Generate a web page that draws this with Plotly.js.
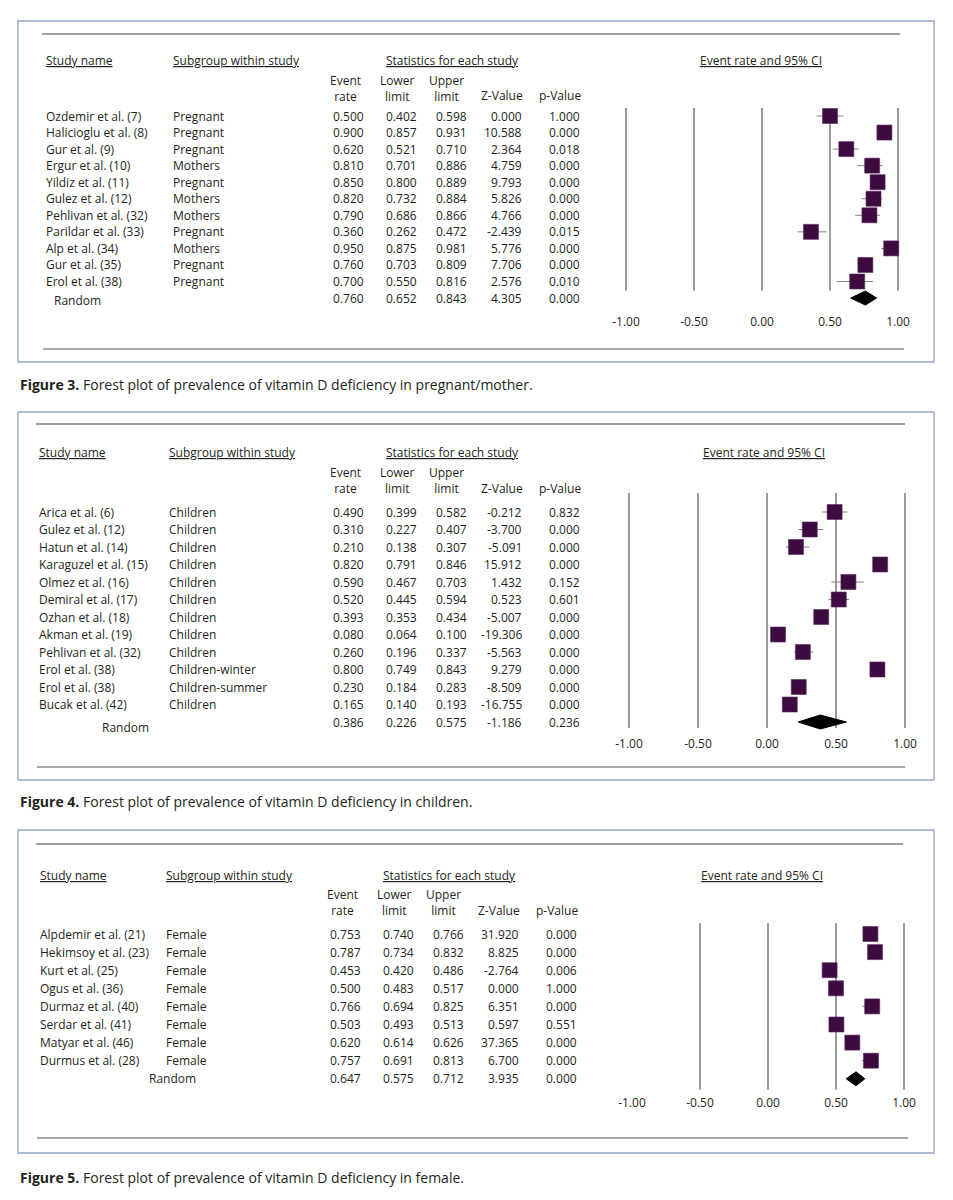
<!DOCTYPE html>
<html><head><meta charset="utf-8">
<script src="https://cdn.plot.ly/plotly-3.0.1.min.js"></script>
<style>html,body{margin:0;padding:0;background:#fff}#chart{width:953px;height:1200px}</style>
</head><body><div id="chart"></div>
<script>
// ---------- DATA ----------
// Figure 3: pregnant / mother
const names1 = ["Ozdemir et al. (7)", "Halicioglu et al. (8)", "Gur et al. (9)", "Ergur et al. (10)", "Yildiz et al. (11)", "Gulez et al. (12)", "Pehlivan et al. (32)", "Parildar et al. (33)", "Alp et al. (34)", "Gur et al. (35)", "Erol et al. (38)"];
const sub1 = ["Pregnant", "Pregnant", "Pregnant", "Mothers", "Pregnant", "Mothers", "Mothers", "Pregnant", "Mothers", "Pregnant", "Pregnant"];
const rate1 = [0.500, 0.900, 0.620, 0.810, 0.850, 0.820, 0.790, 0.360, 0.950, 0.760, 0.700];
const lower1 = [0.402, 0.857, 0.521, 0.701, 0.800, 0.732, 0.686, 0.262, 0.875, 0.703, 0.550];
const upper1 = [0.598, 0.931, 0.710, 0.886, 0.889, 0.884, 0.866, 0.472, 0.981, 0.809, 0.816];
const z1 = [0.000, 10.588, 2.364, 4.759, 9.793, 5.826, 4.766, -2.439, 5.776, 7.706, 2.576];
const p1 = [1.000, 0.000, 0.018, 0.000, 0.000, 0.000, 0.000, 0.015, 0.000, 0.000, 0.010];
const random1 = {rate: 0.760, lower: 0.652, upper: 0.843, z: 4.305, p: 0.000};
const grid1 = [-1, -0.5, 0, 0.5, 1];

// Figure 4: children
const names2 = ["Arica et al. (6)", "Gulez et al. (12)", "Hatun et al. (14)", "Karaguzel et al. (15)", "Olmez et al. (16)", "Demiral et al. (17)", "Ozhan et al. (18)", "Akman et al. (19)", "Pehlivan et al. (32)", "Erol et al. (38)", "Erol et al. (38)", "Bucak et al. (42)"];
const sub2 = ["Children", "Children", "Children", "Children", "Children", "Children", "Children", "Children", "Children", "Children-winter", "Children-summer", "Children"];
const rate2 = [0.490, 0.310, 0.210, 0.820, 0.590, 0.520, 0.393, 0.080, 0.260, 0.800, 0.230, 0.165];
const lower2 = [0.399, 0.227, 0.138, 0.791, 0.467, 0.445, 0.353, 0.064, 0.196, 0.749, 0.184, 0.140];
const upper2 = [0.582, 0.407, 0.307, 0.846, 0.703, 0.594, 0.434, 0.100, 0.337, 0.843, 0.283, 0.193];
const z2 = [-0.212, -3.700, -5.091, 15.912, 1.432, 0.523, -5.007, -19.306, -5.563, 9.279, -8.509, -16.755];
const p2 = [0.832, 0.000, 0.000, 0.000, 0.152, 0.601, 0.000, 0.000, 0.000, 0.000, 0.000, 0.000];
const random2 = {rate: 0.386, lower: 0.226, upper: 0.575, z: -1.186, p: 0.236};
const grid2 = [-1, -0.5, 0, 0.5, 1];

// Figure 5: female
const names3 = ["Alpdemir et al. (21)", "Hekimsoy et al. (23)", "Kurt et al. (25)", "Ogus et al. (36)", "Durmaz et al. (40)", "Serdar et al. (41)", "Matyar et al. (46)", "Durmus et al. (28)"];
const sub3 = ["Female", "Female", "Female", "Female", "Female", "Female", "Female", "Female"];
const rate3 = [0.753, 0.787, 0.453, 0.500, 0.766, 0.503, 0.620, 0.757];
const lower3 = [0.740, 0.734, 0.420, 0.483, 0.694, 0.493, 0.614, 0.691];
const upper3 = [0.766, 0.832, 0.486, 0.517, 0.825, 0.513, 0.626, 0.813];
const z3 = [31.920, 8.825, -2.764, 0.000, 6.351, 0.597, 37.365, 6.700];
const p3 = [0.000, 0.000, 0.006, 1.000, 0.000, 0.551, 0.000, 0.000];
const random3 = {rate: 0.647, lower: 0.575, upper: 0.712, z: 3.935, p: 0.000};
const grid3 = [-0.5, 0, 0.5, 1];

const tickVals = [-1, -0.5, 0, 0.5, 1];
const tickText = ["-1.00", "-0.50", "0.00", "0.50", "1.00"];

const figLabels = ["Figure 3.", "Figure 4.", "Figure 5."];
const captions = [
  "Forest plot of prevalence of vitamin D deficiency in pregnant/mother.",
  "Forest plot of prevalence of vitamin D deficiency in children.",
  "Forest plot of prevalence of vitamin D deficiency in female."
];
const hdrStudy = "Study name", hdrSub = "Subgroup within study", hdrStats = "Statistics for each study";
const hdrCols = ["Event<br>rate", "Lower<br>limit", "Upper<br>limit", "Z-Value", "p-Value"];
const hdrPlot = "Event rate and 95% CI";
const randomLabel = "Random";

// ---------- LAYOUT CONFIG (pixel geometry) ----------
const W = 953, H = 1200;
const PX = x => x / W;
const PY = y => 1 - y / H;

const panels = [
  {names: names1, sub: sub1, rate: rate1, lower: lower1, upper: upper1, z: z1, p: p1, rnd: random1, grid: grid1,
   row0: 116, dy: 16.55, box: [18, 21, 934, 362], top: [42, 900, 34], bot: [43, 904, 349], tickY: 322,
   x0: 762, ppu: 136, nameX: 44, subX: 171, rndX: 52, rndShift: -2, cdx: 0, hdr: [-55, -36, -20],
   gridRows: [-0.48, 10.55], capY: 384, ciX: 761},
  {names: names2, sub: sub2, rate: rate2, lower: lower2, upper: upper2, z: z2, p: p2, rnd: random2, grid: grid2,
   row0: 512, dy: 17.5, box: [18, 412, 934, 780], top: [36, 905, 424], bot: [37, 905, 767], tickY: 744,
   x0: 767, ppu: 138, nameX: 37, subX: 167, rndX: 100, rndShift: -5, cdx: 0, hdr: [-59, -39, -24],
   gridRows: [-1.09, 12.34], capY: 801, ciX: 764},
  {names: names3, sub: sub3, rate: rate3, lower: lower3, upper: upper3, z: z3, p: p3, rnd: random3, grid: grid3,
   row0: 934, dy: 18.1, box: [18, 830, 934, 1153], top: [36, 903, 844], bot: [37, 908, 1138], tickY: 1103,
   x0: 768, ppu: 136, nameX: 38, subX: 164, rndX: 147, rndShift: 0, cdx: -3, hdr: [-59, -40, -24],
   gridRows: [-0.6, 8.6], capY: 1177, ciX: 762}
];

const FONT = "Open Sans, Noto Sans, sans-serif";
const TXT = "#231f20";
const SQ = "#3d0b40";
const CI = "#8a7a8d";

const traces = [];
const annotations = [];
const shapes = [];
const layout = {
  width: W, height: H, margin: {l: 0, r: 0, t: 0, b: 0},
  paper_bgcolor: "#ffffff", plot_bgcolor: "rgba(0,0,0,0)",
  showlegend: false, font: {family: FONT, size: 12, color: TXT}
};

function ann(text, x, y, xanchor, yref, extra) {
  return Object.assign({text: text, x: x, y: y, xref: "paper", yref: yref || "paper",
    xanchor: xanchor, yanchor: "middle", showarrow: false,
    font: {family: FONT, size: 12, color: TXT}}, extra || {});
}

panels.forEach((P, k) => {
  const sfx = k === 0 ? "" : String(k + 1);
  const xa = "x" + sfx, ya = "y" + sfx;
  const n = P.names.length;
  const xDom = [600, 925];
  const topPx = P.row0 - 70, botPx = P.tickY - 9;
  layout["xaxis" + sfx] = {
    domain: [PX(xDom[0]), PX(xDom[1])],
    range: [(xDom[0] - P.x0) / P.ppu, (xDom[1] - P.x0) / P.ppu],
    anchor: ya, showgrid: false, zeroline: false, showline: false, ticks: "",
    tickvals: tickVals, ticktext: tickText, tickfont: {family: FONT, size: 12, color: TXT},
    fixedrange: true
  };
  layout["yaxis" + sfx] = {
    domain: [PY(botPx), PY(topPx)],
    range: [(botPx - P.row0) / P.dy, (topPx - P.row0) / P.dy],
    anchor: xa, visible: false, showgrid: false, zeroline: false, fixedrange: true
  };
  const rows = P.names.map((_, i) => i);

  // vertical reference lines
  P.grid.forEach(v => shapes.push({type: "line", xref: xa, yref: ya, x0: v, x1: v,
    y0: P.gridRows[0], y1: P.gridRows[1], line: {color: "#7a7a7a", width: 1.5}, layer: "below"}));

  // confidence intervals (drawn first, under the squares)
  traces.push({
    type: "scatter", mode: "markers", xaxis: xa, yaxis: ya,
    x: P.rate, y: rows, hoverinfo: "skip",
    marker: {size: 1, color: "rgba(0,0,0,0)"},
    error_x: {type: "data", symmetric: false,
      array: P.upper.map((u, i) => u - P.rate[i]),
      arrayminus: P.lower.map((l, i) => P.rate[i] - l),
      color: CI, thickness: 1, width: 0}
  });
  // study point estimates
  traces.push({
    type: "scatter", mode: "markers", xaxis: xa, yaxis: ya,
    x: P.rate, y: rows, hoverinfo: "skip",
    marker: {symbol: "square", size: 15, color: SQ, line: {color: "#5b2a60", width: 0.6}}
  });
  // summary diamond
  const h = 7 / P.dy;
  traces.push({
    type: "scatter", mode: "lines", xaxis: xa, yaxis: ya, hoverinfo: "skip",
    x: [P.rnd.lower, P.rnd.rate, P.rnd.upper, P.rnd.rate, P.rnd.lower],
    y: [n, n - h, n, n + h, n],
    fill: "toself", fillcolor: "#000000", line: {color: "#000000", width: 1}
  });

  // frame & rules
  shapes.push({type: "rect", xref: "paper", yref: "paper",
    x0: PX(P.box[0]), x1: PX(P.box[2]), y0: PY(P.box[3]), y1: PY(P.box[1]),
    line: {color: "#93a5c8", width: 1.3}});
  shapes.push({type: "line", xref: "paper", yref: "paper",
    x0: PX(P.top[0]), x1: PX(P.top[1]), y0: PY(P.top[2]), y1: PY(P.top[2]),
    line: {color: "#7f7f7f", width: 1.5}});
  shapes.push({type: "line", xref: "paper", yref: "paper",
    x0: PX(P.bot[0]), x1: PX(P.bot[1]), y0: PY(P.bot[2]), y1: PY(P.bot[2]),
    line: {color: "#8a8a8a", width: 1.5}});

  // headers
  const yH1 = PY(P.row0 + P.hdr[0]);
  const yH2 = PY(P.row0 + (P.hdr[1] + P.hdr[2]) / 2);
  const yH3 = PY(P.row0 + P.hdr[2]);
  const cx = [348, 401, 451, 524, 582].map(v => v + P.cdx);
  annotations.push(ann("<u>" + hdrStudy + "</u>", PX(P.nameX), yH1, "left"));
  annotations.push(ann("<u>" + hdrSub + "</u>", PX(P.subX), yH1, "left"));
  annotations.push(ann("<u>" + hdrStats + "</u>", PX(452 + P.cdx), yH1, "center"));
  annotations.push(ann("<u>" + hdrPlot + "</u>", PX(P.ciX), yH1, "center"));
  annotations.push(ann(hdrCols[0], PX(cx[0] - 3), yH2, "center"));
  annotations.push(ann(hdrCols[1], PX(cx[1] - 4), yH2, "center"));
  annotations.push(ann(hdrCols[2], PX(cx[2] - 5), yH2, "center"));
  annotations.push(ann(hdrCols[3], PX(cx[3] + 1), yH3, "right"));
  annotations.push(ann(hdrCols[4], PX(cx[4] + 1), yH3, "right"));

  // rows
  const f3 = v => v.toFixed(3);
  rows.forEach(i => {
    annotations.push(ann(P.names[i], PX(P.nameX), i, "left", ya));
    annotations.push(ann(P.sub[i], PX(P.subX), i, "left", ya));
    annotations.push(ann(f3(P.rate[i]), PX(cx[0]), i, "center", ya));
    annotations.push(ann(f3(P.lower[i]), PX(cx[1]), i, "center", ya));
    annotations.push(ann(f3(P.upper[i]), PX(cx[2]), i, "center", ya));
    annotations.push(ann(f3(P.z[i]), PX(cx[3]), i, "right", ya));
    annotations.push(ann(f3(P.p[i]), PX(cx[4]), i, "right", ya));
  });
  annotations.push(ann(randomLabel, PX(P.rndX), n, "left", ya, {yshift: P.rndShift}));
  annotations.push(ann(f3(P.rnd.rate), PX(cx[0]), n, "center", ya));
  annotations.push(ann(f3(P.rnd.lower), PX(cx[1]), n, "center", ya));
  annotations.push(ann(f3(P.rnd.upper), PX(cx[2]), n, "center", ya));
  annotations.push(ann(f3(P.rnd.z), PX(cx[3]), n, "right", ya));
  annotations.push(ann(f3(P.rnd.p), PX(cx[4]), n, "right", ya));

  // caption
  annotations.push(ann("<b>" + figLabels[k] + "</b> " + captions[k], PX(18), PY(P.capY), "left", "paper",
    {font: {family: FONT, size: 14, color: TXT}}));
});

layout.annotations = annotations;
layout.shapes = shapes;

Plotly.newPlot("chart", traces, layout, {staticPlot: true, displayModeBar: false});
</script>
</body></html>
